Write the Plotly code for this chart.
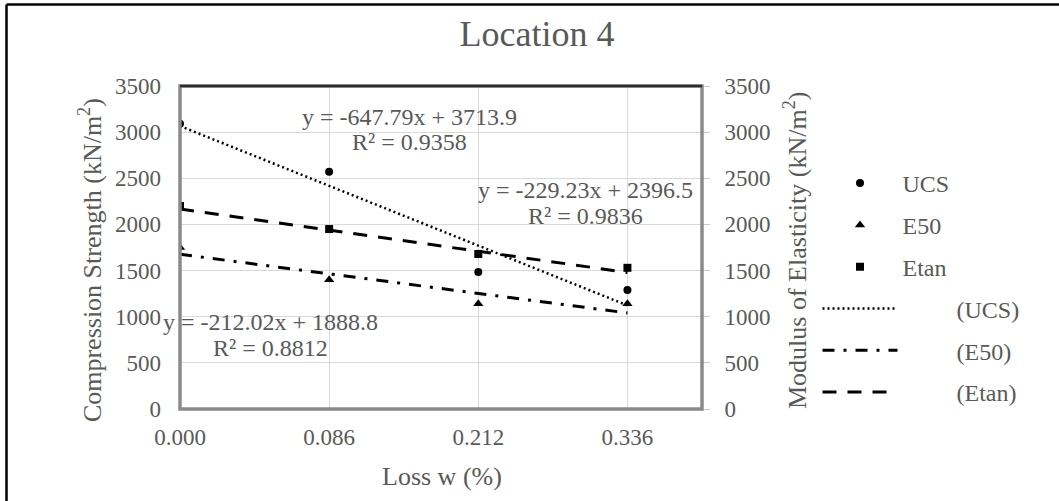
import plotly.graph_objects as go

# ---- data ----
categories = ["0.000", "0.086", "0.212", "0.336"]
cat_pos = [0, 1, 2, 3]
ucs = [3090, 2570, 1485, 1290]
e50 = [1750, 1400, 1140, 1140]
etan = [2200, 1950, 1680, 1530]

# trendline coefficients (Excel: x = category index 1..4)
trend_names = ["UCS", "E50", "Etan"]
slopes = [-647.79, -212.02, -229.23]
intercepts = [3713.9, 1888.8, 2396.5]
r2 = [0.9358, 0.8812, 0.9836]

y_ticks = [0, 500, 1000, 1500, 2000, 2500, 3000, 3500]

FONT = "Liberation Serif"
GREY = "#595959"

fig = go.Figure()

# markers
fig.add_trace(go.Scatter(x=cat_pos, y=ucs, mode="markers", name="UCS",
                         marker=dict(symbol="circle", size=8, color="black"),
                         legendgroup="a"))
fig.add_trace(go.Scatter(x=cat_pos, y=e50, mode="markers", name="E50", yaxis="y2",
                         marker=dict(symbol="triangle-up", size=9, color="black"),
                         legendgroup="b"))
fig.add_trace(go.Scatter(x=cat_pos, y=etan, mode="markers", name="Etan", yaxis="y2",
                         marker=dict(symbol="square", size=8, color="black"),
                         legendgroup="c"))

dashes = ["2px,3px", "12px,9px,3px,9px", "14px,11px"]
widths = [2.5, 3, 3]
axes = ["y", "y2", "y2"]
groups = ["d", "e", "f"]
for i, nm in enumerate(trend_names):
    xs = [cat_pos[0], cat_pos[-1]]
    ys = [slopes[i] * (p + 1) + intercepts[i] for p in xs]
    fig.add_trace(go.Scatter(x=xs, y=ys, mode="lines",
                             name="\u00a0" * 9 + "(" + nm + ")", yaxis=axes[i],
                             line=dict(color="black", width=widths[i], dash=dashes[i]),
                             legendgroup=groups[i]))

# equation labels
eq_pos = [(1.54, 3164, 2893), (0.604, 943, 661), (2.716, 2373, 2091)]
for i in range(3):
    xp, y1, y2 = eq_pos[i]
    fig.add_annotation(x=xp, y=y1, xref="x", yref="y", showarrow=False,
                       xanchor="center", yanchor="middle",
                       text=f"y = {slopes[i]:.2f}x + {intercepts[i]:.1f}",
                       font=dict(family=FONT, size=24, color=GREY))
    fig.add_annotation(x=xp, y=y2, xref="x", yref="y", showarrow=False,
                       xanchor="center", yanchor="middle",
                       text=f"R² = {r2[i]:.4f}",
                       font=dict(family=FONT, size=24, color=GREY))

# axis titles
fig.add_annotation(x=-0.1724, y=0.461, xref="paper", yref="paper", showarrow=False,
                   xanchor="center", yanchor="middle",
                   textangle=-90, text="Compression Strength (kN/m<sup>2</sup>)",
                   font=dict(family=FONT, size=26, color=GREY))
fig.add_annotation(x=1.178, y=0.492, xref="paper", yref="paper", showarrow=False,
                   xanchor="center", yanchor="middle",
                   textangle=-90, text="Modulus of Elasticity (kN/m<sup>2</sup>)",
                   font=dict(family=FONT, size=26, color=GREY))
fig.add_annotation(x=0.502, y=-0.2105, xref="paper", yref="paper", showarrow=False,
                   xanchor="center", yanchor="middle",
                   text="Loss w (%)", font=dict(family=FONT, size=26, color=GREY))

# plot-area border
fig.add_shape(type="rect", xref="paper", yref="paper", x0=0, x1=1, y0=0, y1=1,
              line=dict(color="#8a8a8a", width=3.5), layer="above")
fig.add_shape(type="line", xref="paper", yref="paper", x0=0, x1=1, y0=1, y1=1,
              line=dict(color="#2e2e2e", width=2.5), layer="above")
# outer chart frame (only top and left edges visible)
fx0 = (6.5 - 180) / 522
fy1 = (409 - 4.5) / 323
fig.add_shape(type="line", xref="paper", yref="paper", x0=fx0, x1=(1059 - 180) / 522,
              y0=fy1, y1=fy1, line=dict(color="black", width=2.5), layer="above")
fig.add_shape(type="line", xref="paper", yref="paper", x0=fx0, x1=fx0,
              y0=(409 - 501) / 323, y1=fy1, line=dict(color="black", width=2.5),
              layer="above")

fig.update_layout(
    width=1059, height=501,
    margin=dict(l=180, r=357, t=86, b=92),
    paper_bgcolor="white", plot_bgcolor="white",
    title=dict(text="Location 4", x=(180 + 0.684 * 522) / 1059, xanchor="center",
               y=1 - 33 / 501, yanchor="middle",
               font=dict(family="Liberation Serif, Times New Roman, serif", size=36,
                         color=GREY)),
    font=dict(family=FONT, color=GREY),
    xaxis=dict(range=[0, 3.5], tickvals=cat_pos, ticktext=categories,
               showgrid=True, gridcolor="#d9d9d9", gridwidth=1, zeroline=False,
               showline=False, ticks="", tickfont=dict(family=FONT, size=23, color=GREY),
               ticklabelstandoff=12),
    yaxis=dict(range=[0, 3500], tickvals=y_ticks, showgrid=True, gridcolor="#d9d9d9",
               gridwidth=1, zeroline=False, showline=False, ticks="",
               tickfont=dict(family=FONT, size=23, color=GREY), ticklabelstandoff=18),
    yaxis2=dict(range=[0, 3500], tickvals=y_ticks, overlaying="y", side="right",
                showgrid=False, zeroline=False, showline=False, ticks="outside",
                ticklen=7, tickcolor="#c8c8c8",
                tickfont=dict(family=FONT, size=23, color=GREY), ticklabelstandoff=10),
    showlegend=True,
    legend=dict(x=(817.5 - 180) / 522, y=(409 - 161) / 323, xanchor="left", yanchor="top",
                traceorder="grouped", tracegroupgap=7.6, itemwidth=75,
                font=dict(family=FONT, size=24, color=GREY),
                bgcolor="rgba(0,0,0,0)", borderwidth=0),
)

fig.write_html("out.html")
